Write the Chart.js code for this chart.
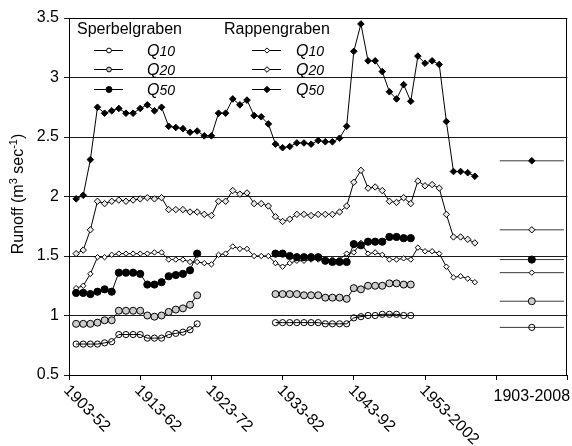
<!DOCTYPE html>
<html>
<head>
<meta charset="utf-8">
<script src="https://cdn.jsdelivr.net/npm/chart.js@4/dist/chart.umd.min.js"></script>
<style>
  html, body { margin: 0; padding: 0; background: #fff; }
  #wrap { width: 572px; height: 446px; }
</style>
</head>
<body>
<div id="wrap"><canvas id="c" width="572" height="446"></canvas></div>
<script>
// Moving 50-year windows: 1903-52, 1904-53, ... 1959-2008 (57 windows)
const windowLabels = Array.from({ length: 57 }, (_, i) => {
  const a = 1903 + i, b = a + 49;
  return a + '-' + (b >= 2000 ? String(b) : String(b).slice(2));
});
const tickLabels = ['1903-52', '1913-62', '1923-72', '1933-82', '1943-92', '1953-2002'];
const overallLabel = '1903-2008';

// Rappengraben runoff quantiles (m3 s-1), one value per window
const rappQ50 = [1.98, 2.01, 2.31, 2.75, 2.70, 2.72, 2.74, 2.70, 2.70, 2.74,
                 2.77, 2.72, 2.75, 2.59, 2.58, 2.57, 2.54, 2.55, 2.51, 2.51,
                 2.70, 2.70, 2.82, 2.77, 2.81, 2.68, 2.67, 2.61, 2.44, 2.41,
                 2.42, 2.45, 2.45, 2.44, 2.47, 2.46, 2.46, 2.49, 2.59, 3.22,
                 3.45, 3.14, 3.14, 3.05, 2.88, 2.82, 2.94, 2.80, 3.18, 3.12,
                 3.14, 3.11, 2.63, 2.21, 2.21, 2.20, 2.17];
const rappQ20 = [1.52, 1.55, 1.72, 1.96, 1.94, 1.96, 1.97, 1.96, 1.97, 1.98,
                 1.99, 1.98, 1.99, 1.89, 1.89, 1.89, 1.87, 1.87, 1.85, 1.84,
                 1.96, 1.96, 2.05, 2.02, 2.03, 1.94, 1.94, 1.92, 1.83, 1.79,
                 1.81, 1.85, 1.85, 1.84, 1.85, 1.85, 1.85, 1.87, 1.92, 2.12,
                 2.22, 2.07, 2.08, 2.05, 1.96, 1.95, 1.99, 1.94, 2.13, 2.09,
                 2.10, 2.07, 1.85, 1.66, 1.66, 1.64, 1.61];
const rappQ10 = [1.23, 1.25, 1.35, 1.49, 1.49, 1.51, 1.52, 1.52, 1.52, 1.52,
                 1.52, 1.53, 1.53, 1.47, 1.47, 1.47, 1.45, 1.45, 1.44, 1.43,
                 1.51, 1.52, 1.58, 1.56, 1.56, 1.50, 1.50, 1.50, 1.44, 1.41,
                 1.44, 1.46, 1.46, 1.47, 1.47, 1.47, 1.47, 1.47, 1.52, 1.53,
                 1.61, 1.52, 1.53, 1.51, 1.47, 1.47, 1.48, 1.47, 1.57, 1.54,
                 1.54, 1.52, 1.41, 1.32, 1.33, 1.31, 1.28];

// Sperbelgraben runoff quantiles; null where the record has a gap
const sperbQ50 = [1.19, 1.19, 1.18, 1.20, 1.22, 1.20, 1.36, 1.36, 1.36, 1.35,
                  1.26, 1.26, 1.28, 1.33, 1.34, 1.35, 1.38, 1.52,
                  null, null, null, null, null, null, null, null, null, null,
                  1.52, 1.52, 1.50, 1.49, 1.49, 1.49, 1.49, 1.46, 1.45, 1.45,
                  1.45, 1.60, 1.59, 1.62, 1.62, 1.62, 1.66, 1.66, 1.65, 1.65,
                  null, null, null, null, null, null, null, null, null];
const sperbQ20 = [0.93, 0.93, 0.93, 0.94, 0.96, 0.96, 1.04, 1.04, 1.04, 1.04,
                  1.00, 0.99, 1.00, 1.03, 1.05, 1.06, 1.09, 1.17,
                  null, null, null, null, null, null, null, null, null, null,
                  1.18, 1.18, 1.18, 1.18, 1.17, 1.17, 1.17, 1.15, 1.15, 1.15,
                  1.14, 1.23, 1.22, 1.25, 1.25, 1.25, 1.27, 1.27, 1.26, 1.26,
                  null, null, null, null, null, null, null, null, null];
const sperbQ10 = [0.76, 0.76, 0.76, 0.76, 0.77, 0.78, 0.84, 0.84, 0.84, 0.84,
                  0.81, 0.81, 0.81, 0.84, 0.85, 0.86, 0.88, 0.93,
                  null, null, null, null, null, null, null, null, null, null,
                  0.94, 0.94, 0.94, 0.94, 0.94, 0.94, 0.94, 0.93, 0.93, 0.93,
                  0.93, 0.98, 0.99, 1.00, 1.00, 1.01, 1.01, 1.01, 1.00, 1.00,
                  null, null, null, null, null, null, null, null, null];

// Whole-period (1903-2008) quantiles: [Q10, Q20, Q50]
const overallSperb = [0.90, 1.12, 1.47];
const overallRapp = [1.36, 1.72, 2.30];

const FONT = "'Liberation Sans', Arial, Helvetica, sans-serif";

// x slots: window i sits in slot i+1; the whole-period value sits to the right
const SLOTS = 70;
const overallCenter = windowLabels.length + 8;
const overallHalf = 4.5;

function toPoints(values) {
  return values.map((v, i) => ({ x: i + 1, y: v }));
}
function overallPoints(v) {
  return [{ x: overallCenter - overallHalf, y: v }, { x: overallCenter, y: v }, { x: overallCenter + overallHalf, y: v }];
}

const styles = {
  sQ10: { pointStyle: 'circle', radius: 3.1, fill: 'rgba(255,255,255,0)', legendR: 2.4 },
  sQ20: { pointStyle: 'circle', radius: 3.5, fill: '#cdcdcd', legendR: 2.4 },
  sQ50: { pointStyle: 'circle', radius: 3.6, fill: '#000000', legendR: 3.0 },
  rQ10: { pointStyle: 'rectRot', radius: 2.7, fill: '#ffffff', legendR: 2.6 },
  rQ20: { pointStyle: 'rectRot', radius: 3.2, fill: '#e8e8e8', legendR: 2.8 },
  rQ50: { pointStyle: 'rectRot', radius: 3.3, fill: '#000000', legendR: 3.2 }
};

function seriesDataset(label, values, st) {
  return {
    label, data: toPoints(values),
    borderColor: '#000', borderWidth: 1, spanGaps: false,
    pointStyle: st.pointStyle, pointRadius: st.radius,
    pointBackgroundColor: st.fill, pointBorderColor: '#000', pointBorderWidth: 1,
    pointHoverRadius: st.radius
  };
}
function overallDataset(label, value, st) {
  return {
    label, data: overallPoints(value),
    borderColor: '#3a3a3a', borderWidth: 1,
    pointStyle: st.pointStyle, pointRadius: [0, st.radius, 0],
    pointBackgroundColor: st.fill, pointBorderColor: '#000', pointBorderWidth: 1,
    pointHoverRadius: [0, st.radius, 0]
  };
}

const datasets = [
  seriesDataset('Sperbelgraben Q50', sperbQ50, styles.sQ50),
  seriesDataset('Sperbelgraben Q20', sperbQ20, styles.sQ20),
  seriesDataset('Sperbelgraben Q10', sperbQ10, styles.sQ10),
  seriesDataset('Rappengraben Q50', rappQ50, styles.rQ50),
  seriesDataset('Rappengraben Q20', rappQ20, styles.rQ20),
  seriesDataset('Rappengraben Q10', rappQ10, styles.rQ10),
  overallDataset('Sperbelgraben Q50 1903-2008', overallSperb[2], styles.sQ50),
  overallDataset('Sperbelgraben Q20 1903-2008', overallSperb[1], styles.sQ20),
  overallDataset('Sperbelgraben Q10 1903-2008', overallSperb[0], styles.sQ10),
  overallDataset('Rappengraben Q50 1903-2008', overallRapp[2], styles.rQ50),
  overallDataset('Rappengraben Q20 1903-2008', overallRapp[1], styles.rQ20),
  overallDataset('Rappengraben Q10 1903-2008', overallRapp[0], styles.rQ10)
];

function drawMarker(ctx, style, r, x, y) {
  ctx.beginPath();
  if (style === 'circle') {
    ctx.arc(x, y, r, 0, Math.PI * 2);
  } else {
    ctx.moveTo(x, y - r); ctx.lineTo(x + r, y); ctx.lineTo(x, y + r); ctx.lineTo(x - r, y); ctx.closePath();
  }
  ctx.fill();
  ctx.stroke();
}

// Frame, axis labels, y title and the two-column legend
const decorations = {
  id: 'decorations',
  beforeDatasetsDraw(chart) {
    const { ctx, chartArea: a } = chart;
    ctx.save();
    ctx.strokeStyle = '#000';
    ctx.lineWidth = 1;
    ctx.beginPath();
    ctx.moveTo(Math.round(a.left) + 0.5, Math.round(a.top) + 0.5);
    ctx.lineTo(Math.round(a.right) - 0.5, Math.round(a.top) + 0.5);
    ctx.lineTo(Math.round(a.right) - 0.5, Math.round(a.bottom) + 0.5);
    ctx.stroke();
    ctx.restore();
  },
  afterDraw(chart) {
    const { ctx } = chart;
    const xs = chart.scales.x;
    ctx.save();
    ctx.fillStyle = '#000';

    // rotated window labels
    ctx.font = '16px ' + FONT;
    ctx.textAlign = 'left';
    ctx.textBaseline = 'middle';
    tickLabels.forEach((t, i) => {
      const px = xs.getPixelForValue(i * 10);
      ctx.save();
      ctx.translate(px - 3, 388);
      ctx.rotate(Math.PI / 4);
      ctx.fillText(t, 0, 0);
      ctx.restore();
    });
    // whole-period label
    ctx.textAlign = 'center';
    ctx.textBaseline = 'alphabetic';
    ctx.fillText(overallLabel, xs.getPixelForValue(overallCenter), 401);

    // y-axis title with superscripts
    const pieces = [
      ['Runoff (m', 16, 0], ['3', 11, 6], [' sec', 16, 0], ['-1', 11, 6], [')', 16, 0]
    ];
    let total = 0;
    pieces.forEach(p => { ctx.font = p[1] + 'px ' + FONT; total += ctx.measureText(p[0]).width; });
    ctx.save();
    ctx.translate(23, 194);
    ctx.rotate(-Math.PI / 2);
    ctx.textAlign = 'left';
    let cx = -total / 2;
    pieces.forEach(p => {
      ctx.font = p[1] + 'px ' + FONT;
      ctx.fillText(p[0], cx, -p[2]);
      cx += ctx.measureText(p[0]).width;
    });
    ctx.restore();

    // legend
    const groups = [
      { title: 'Sperbelgraben', titleX: 77, lineX: 94, markX: 109, textX: 147, keys: ['sQ10', 'sQ20', 'sQ50'] },
      { title: 'Rappengraben', titleX: 224, lineX: 252, markX: 267, textX: 296, keys: ['rQ10', 'rQ20', 'rQ50'] }
    ];
    const rowsY = [49.5, 69, 88.5];
    const qNames = ['10', '20', '50'];
    groups.forEach(g => {
      ctx.font = '16px ' + FONT;
      ctx.textAlign = 'left';
      ctx.textBaseline = 'middle';
      ctx.fillStyle = '#000';
      ctx.fillText(g.title, g.titleX, 30);
      g.keys.forEach((k, j) => {
        const y = rowsY[j];
        const st = styles[k];
        ctx.strokeStyle = '#000';
        ctx.lineWidth = 1;
        ctx.beginPath();
        ctx.moveTo(g.lineX, Math.round(y) + 0.5);
        ctx.lineTo(g.lineX + 29, Math.round(y) + 0.5);
        ctx.stroke();
        ctx.fillStyle = st.fill === 'rgba(255,255,255,0)' ? '#ffffff' : st.fill;
        drawMarker(ctx, st.pointStyle, st.legendR, g.markX, Math.round(y) + 0.5);
        ctx.fillStyle = '#000';
        ctx.textBaseline = 'alphabetic';
        ctx.font = 'italic 16px ' + FONT;
        ctx.fillText('Q', g.textX, y + 6);
        const w = ctx.measureText('Q').width;
        ctx.font = 'italic 14px ' + FONT;
        ctx.fillText(qNames[j], g.textX + w, y + 6);
      });
    });
    ctx.restore();
  }
};

new Chart(document.getElementById('c'), {
  type: 'line',
  data: { datasets },
  plugins: [decorations],
  options: {
    responsive: false,
    animation: false,
    devicePixelRatio: 1,
    layout: { padding: { top: 18, right: 3, left: 0, bottom: 0 } },
    plugins: { legend: { display: false }, tooltip: { enabled: false } },
    elements: { line: { tension: 0 } },
    scales: {
      x: {
        type: 'linear', min: 0, max: SLOTS,
        afterFit(s) { s.height = 71; },
        afterBuildTicks(s) { s.ticks = [0, 10, 20, 30, 40, 50, 60, 70].map(v => ({ value: v })); },
        ticks: { callback: () => '', font: { size: 16, family: FONT } },
        grid: { drawOnChartArea: false, drawTicks: true, tickLength: 5, color: '#000', lineWidth: 1 },
        border: { display: true, color: '#000', width: 1 }
      },
      y: {
        min: 0.5, max: 3.5,
        afterFit(s) { s.width = 69; },
        ticks: { stepSize: 0.5, padding: 5, color: '#000', font: { size: 16, family: FONT },
                 callback: v => String(Math.round(v * 10) / 10) },
        grid: { drawOnChartArea: true, drawTicks: true, tickLength: 5, color: '#1a1a1a', lineWidth: 1 },
        border: { display: true, color: '#000', width: 1 }
      }
    }
  }
});
</script>
</body>
</html>
